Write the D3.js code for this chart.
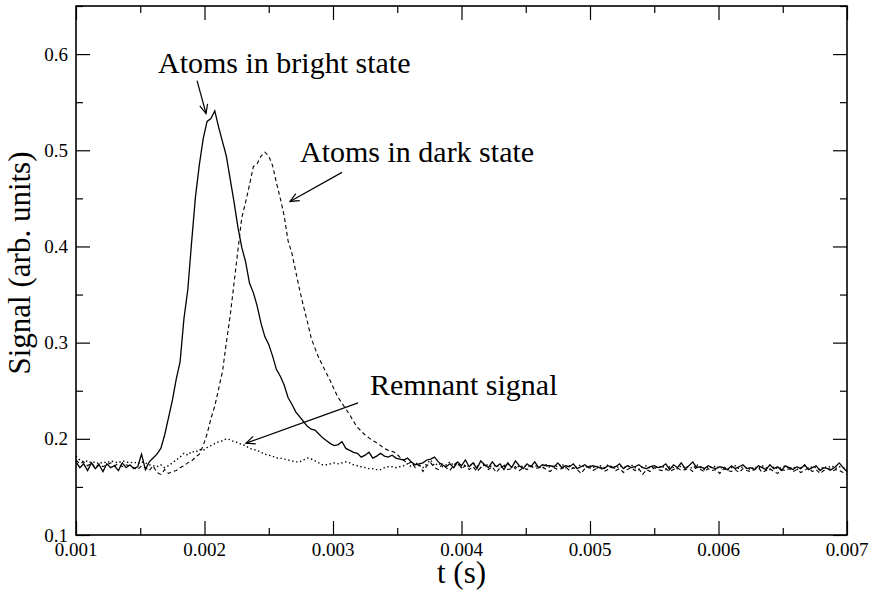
<!DOCTYPE html>
<html>
<head>
<meta charset="utf-8">
<script src="https://cdn.jsdelivr.net/npm/d3@7"></script>
<style>
  body { margin: 0; background: #fff; }
  svg text { font-family: "Liberation Serif", "Times New Roman", Times, serif; fill: #000; }
</style>
</head>
<body>
<div id="chart"></div>
<script>
// sampling grid of the scope trace
var tStart = 0.001, tStep = 0.00003;

// bright state (solid)
var brightSignal = [
  0.176, 0.170, 0.174, 0.167, 0.175, 0.169, 0.173, 0.166, 0.174, 0.170,
  0.172, 0.167, 0.175, 0.170, 0.173, 0.169, 0.171, 0.184, 0.168, 0.176,
  0.180, 0.184, 0.190, 0.204, 0.222, 0.240, 0.262, 0.280, 0.325, 0.355,
  0.405, 0.452, 0.485, 0.512, 0.530, 0.533, 0.541, 0.524, 0.509, 0.494,
  0.470, 0.446, 0.420, 0.399, 0.384, 0.362, 0.352, 0.338, 0.320, 0.306,
  0.298, 0.286, 0.272, 0.265, 0.256, 0.243, 0.236, 0.228, 0.223, 0.218,
  0.213, 0.210, 0.209, 0.205, 0.201, 0.198, 0.195, 0.193, 0.194, 0.197,
  0.190, 0.188, 0.186, 0.185, 0.181, 0.183, 0.186, 0.180, 0.182, 0.185,
  0.182, 0.181, 0.183, 0.180, 0.179, 0.178, 0.180, 0.176, 0.173, 0.174,
  0.175, 0.178, 0.179, 0.181, 0.176, 0.173, 0.171, 0.174, 0.170, 0.176,
  0.172, 0.178, 0.171, 0.175, 0.169, 0.177, 0.173, 0.170, 0.176, 0.171,
  0.174, 0.168, 0.175, 0.170, 0.177, 0.172, 0.169, 0.174, 0.171, 0.176,
  0.170, 0.173, 0.172, 0.172, 0.171, 0.175, 0.170, 0.172, 0.171, 0.174,
  0.169, 0.171, 0.173, 0.170, 0.172, 0.171, 0.170, 0.169, 0.172, 0.170,
  0.171, 0.174, 0.169, 0.172, 0.170, 0.171, 0.173, 0.170, 0.169, 0.171,
  0.172, 0.170, 0.171, 0.174, 0.168, 0.173, 0.170, 0.175, 0.169, 0.172,
  0.176, 0.170, 0.171, 0.169, 0.172, 0.170, 0.169, 0.171, 0.170, 0.168,
  0.172, 0.169, 0.171, 0.173, 0.169, 0.170, 0.168, 0.172, 0.170, 0.168,
  0.173, 0.169, 0.171, 0.167, 0.172, 0.170, 0.168, 0.171, 0.169, 0.173,
  0.168, 0.170, 0.172, 0.167, 0.170, 0.169, 0.168, 0.171, 0.175, 0.170,
  0.166
];

// dark state (dashed)
var darkSignal = [
  0.178, 0.174, 0.176, 0.172, 0.175, 0.170, 0.174, 0.171, 0.173, 0.175,
  0.172, 0.174, 0.171, 0.173, 0.172, 0.170, 0.168, 0.172, 0.170, 0.167,
  0.172, 0.165, 0.163, 0.168, 0.164, 0.166, 0.167, 0.170, 0.172, 0.175,
  0.177, 0.181, 0.184, 0.193, 0.205, 0.221, 0.234, 0.252, 0.270, 0.300,
  0.328, 0.362, 0.396, 0.430, 0.446, 0.464, 0.483, 0.486, 0.494, 0.498,
  0.494, 0.484, 0.466, 0.450, 0.432, 0.406, 0.393, 0.374, 0.355, 0.338,
  0.322, 0.305, 0.294, 0.284, 0.276, 0.268, 0.260, 0.251, 0.243, 0.237,
  0.231, 0.225, 0.218, 0.212, 0.208, 0.204, 0.201, 0.198, 0.196, 0.193,
  0.190, 0.188, 0.187, 0.185, 0.181, 0.178, 0.174, 0.176, 0.170, 0.173,
  0.166, 0.172, 0.175, 0.170, 0.168, 0.174, 0.170, 0.167, 0.173, 0.176,
  0.169, 0.172, 0.168, 0.171, 0.166, 0.170, 0.173, 0.168, 0.171, 0.165,
  0.170, 0.172, 0.168, 0.169, 0.171, 0.167, 0.170, 0.168, 0.172, 0.169,
  0.170, 0.171, 0.168, 0.166, 0.170, 0.168, 0.169, 0.171, 0.167, 0.170,
  0.168, 0.164, 0.169, 0.171, 0.167, 0.169, 0.170, 0.166, 0.168, 0.171,
  0.167, 0.169, 0.165, 0.168, 0.170, 0.167, 0.169, 0.163, 0.168, 0.166,
  0.170, 0.168, 0.167, 0.169, 0.166, 0.168, 0.170, 0.167, 0.168, 0.169,
  0.166, 0.171, 0.168, 0.166, 0.169, 0.167, 0.168, 0.164, 0.169, 0.167,
  0.166, 0.168, 0.165, 0.169, 0.167, 0.166, 0.168, 0.170, 0.165, 0.167,
  0.169, 0.166, 0.164, 0.168, 0.167, 0.169, 0.166, 0.168, 0.165, 0.167,
  0.170, 0.166, 0.168, 0.164, 0.167, 0.169, 0.166, 0.168, 0.167, 0.165,
  0.163
];

// remnant (dotted)
var remnantSignal = [
  0.182, 0.178, 0.176, 0.177, 0.175, 0.176, 0.174, 0.176, 0.175, 0.177,
  0.176, 0.175, 0.177, 0.176, 0.175, 0.176, 0.174, 0.176, 0.175, 0.173,
  0.172, 0.171, 0.173, 0.170, 0.172, 0.175, 0.178, 0.181, 0.185, 0.183,
  0.187, 0.186, 0.189, 0.188, 0.191, 0.193, 0.195, 0.197, 0.198, 0.200,
  0.199, 0.197, 0.196, 0.194, 0.193, 0.190, 0.189, 0.188, 0.186, 0.184,
  0.183, 0.182, 0.180, 0.180, 0.179, 0.178, 0.177, 0.176, 0.176, 0.178,
  0.180, 0.179, 0.177, 0.175, 0.173, 0.173, 0.174, 0.175, 0.174, 0.175,
  0.176, 0.175, 0.173, 0.172, 0.171, 0.170, 0.169, 0.169, 0.168, 0.168,
  0.170, 0.171, 0.171, 0.170, 0.171, 0.172, 0.174, 0.171, 0.175, 0.173,
  0.170, 0.174, 0.178, 0.172, 0.175, 0.171, 0.173, 0.176, 0.172, 0.174,
  0.170, 0.173, 0.171, 0.175, 0.172, 0.170, 0.174, 0.172, 0.171, 0.173,
  0.170, 0.172, 0.174, 0.171, 0.169, 0.172, 0.171, 0.173, 0.170, 0.172,
  0.171, 0.169, 0.173, 0.170, 0.172, 0.171, 0.174, 0.170, 0.172, 0.169,
  0.171, 0.173, 0.170, 0.172, 0.171, 0.169, 0.172, 0.170, 0.173, 0.171,
  0.169, 0.172, 0.170, 0.171, 0.173, 0.170, 0.168, 0.171, 0.172, 0.169,
  0.171, 0.170, 0.172, 0.168, 0.171, 0.170, 0.169, 0.172, 0.170, 0.171,
  0.169, 0.173, 0.170, 0.168, 0.171, 0.170, 0.172, 0.169, 0.171, 0.168,
  0.170, 0.172, 0.169, 0.171, 0.170, 0.168, 0.171, 0.169, 0.172, 0.170,
  0.168, 0.171, 0.169, 0.170, 0.172, 0.169, 0.171, 0.168, 0.170, 0.172,
  0.169, 0.171, 0.170, 0.168, 0.171, 0.170, 0.172, 0.169, 0.171, 0.170,
  0.169
];

var xMajor = [0.001, 0.002, 0.003, 0.004, 0.005, 0.006, 0.007];
var xMinor = [0.0015, 0.0025, 0.0035, 0.0045, 0.0055, 0.0065];
var xTickLabels = ["0.001", "0.002", "0.003", "0.004", "0.005", "0.006", "0.007"];
var yMajor = [0.1, 0.2, 0.3, 0.4, 0.5, 0.6];
var yMinor = [0.15, 0.25, 0.35, 0.45, 0.55, 0.65];
var yTickLabels = ["0.1", "0.2", "0.3", "0.4", "0.5", "0.6"];

// annotation anchors in data units
var notes = [
  {text: "Atoms in bright state", t: 0.001638, v: 0.5808, from: [0.001942, 0.5725], to: [0.002012, 0.5382]},
  {text: "Atoms in dark state",   t: 0.002743, v: 0.4873, from: [0.003070, 0.4770], to: [0.002665, 0.4468]},
  {text: "Remnant signal",        t: 0.003288, v: 0.2454, from: [0.003195, 0.2374], to: [0.002323, 0.1955]}
];

var margin = {top: 6, right: 23, bottom: 55, left: 76},
    width = 870 - margin.left - margin.right,
    height = 590 - margin.top - margin.bottom;

var root = d3.select("#chart")
  .append("svg")
    .attr("width", 870)
    .attr("height", 590);

var svg = root.append("g")
  .attr("transform", "translate(" + margin.left + "," + margin.top + ")");

var x = d3.scaleLinear().domain([0.001, 0.007]).range([0, width]);
var y = d3.scaleLinear().domain([0.1, 0.65]).range([height, 0]);

// arrow head
root.append("defs").append("marker")
  .attr("id", "arrow")
  .attr("markerUnits", "userSpaceOnUse")
  .attr("viewBox", "-10 -6 12 12")
  .attr("markerWidth", 12)
  .attr("markerHeight", 12)
  .attr("refX", 0)
  .attr("refY", 0)
  .attr("orient", "auto")
  .append("path")
    .attr("d", "M-9,-4 L0,0 L-9,4")
    .attr("fill", "none")
    .attr("stroke", "#000")
    .attr("stroke-width", 1.2);

// traces
var series = [
  {data: remnantSignal, dash: "1.4,2.6", width: 1.4},
  {data: darkSignal, dash: "4,3", width: 1.1},
  {data: brightSignal, dash: null, width: 1.3}
];

var line = d3.line()
  .x((d, i) => x(tStart + i * tStep))
  .y(d => y(d));

svg.append("g")
  .selectAll("path")
  .data(series)
  .join("path")
    .attr("fill", "none")
    .attr("stroke", "#000")
    .attr("stroke-width", d => d.width)
    .attr("stroke-dasharray", d => d.dash)
    .attr("d", d => line(d.data));

// inward ticks on all four sides
function ticks(axis, vals, size) {
  return axis.tickValues(vals).tickSize(-size).tickFormat("");
}
svg.append("g").attr("transform", "translate(0," + height + ")").call(ticks(d3.axisBottom(x), xMajor, 14));
svg.append("g").attr("transform", "translate(0," + height + ")").call(ticks(d3.axisBottom(x), xMinor, 7));
svg.append("g").call(ticks(d3.axisTop(x), xMajor, 14));
svg.append("g").call(ticks(d3.axisTop(x), xMinor, 7));
svg.append("g").call(ticks(d3.axisLeft(y), yMajor, 14));
svg.append("g").call(ticks(d3.axisLeft(y), yMinor, 7));
svg.append("g").attr("transform", "translate(" + width + ",0)").call(ticks(d3.axisRight(y), yMajor, 14));
svg.append("g").attr("transform", "translate(" + width + ",0)").call(ticks(d3.axisRight(y), yMinor, 7));
svg.selectAll(".domain").remove();
svg.selectAll(".tick line").attr("stroke", "#000").attr("stroke-width", 1.2);

// frame
svg.append("rect")
  .attr("width", width)
  .attr("height", height)
  .attr("fill", "none")
  .attr("stroke", "#000")
  .attr("stroke-width", 1.6);

// tick labels
svg.append("g").selectAll("text")
  .data(xMajor)
  .join("text")
    .attr("x", d => x(d))
    .attr("y", height + 21)
    .attr("text-anchor", "middle")
    .style("font-size", "19px")
    .text((d, i) => xTickLabels[i]);

svg.append("g").selectAll("text")
  .data(yMajor)
  .join("text")
    .attr("x", -8)
    .attr("y", d => y(d))
    .attr("dy", "0.35em")
    .attr("text-anchor", "end")
    .style("font-size", "19px")
    .text((d, i) => yTickLabels[i]);

// axis titles
svg.append("text")
  .attr("x", width / 2)
  .attr("y", height + 48)
  .attr("text-anchor", "middle")
  .style("font-size", "31px")
  .text("t (s)");

svg.append("text")
  .attr("transform", "translate(-46," + (263 - margin.top) + ") rotate(-90)")
  .attr("text-anchor", "middle")
  .style("font-size", "31px")
  .text("Signal (arb. units)");

// annotations
var ann = svg.append("g").selectAll("g")
  .data(notes)
  .join("g");

ann.append("text")
  .attr("x", d => x(d.t))
  .attr("y", d => y(d.v))
  .style("font-size", "30px")
  .text(d => d.text);

ann.append("line")
  .attr("x1", d => x(d.from[0]))
  .attr("y1", d => y(d.from[1]))
  .attr("x2", d => x(d.to[0]))
  .attr("y2", d => y(d.to[1]))
  .attr("stroke", "#000")
  .attr("stroke-width", 1.2)
  .attr("marker-end", "url(#arrow)");
</script>
</body>
</html>
